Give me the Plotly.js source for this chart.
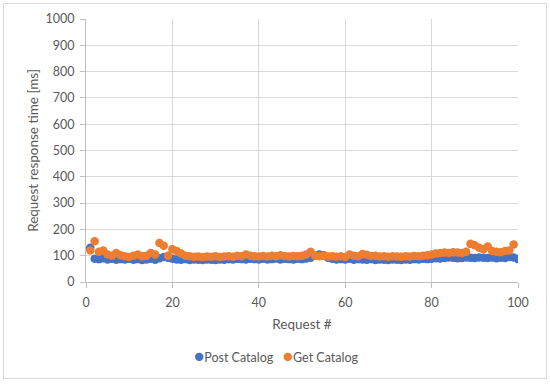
<!DOCTYPE html>
<html>
<head>
<meta charset="utf-8">
<script src="https://cdn.plot.ly/plotly-3.0.1.min.js"></script>
<style>
html,body{margin:0;padding:0;background:#fff;}
#wrap{position:relative;width:550px;height:384px;}
#chart{width:550px;height:384px;}
#frame{position:absolute;left:3px;top:3px;width:542px;height:374px;border:1px solid #d9d9d9;pointer-events:none;}
</style>
</head>
<body>
<div id="wrap"><div id="chart"></div><div id="frame"></div></div>
<script>
const postCatalog = [130,88,87,90,86,88,85,87,86,88,
85,87,84,86,88,85,90,95,92,88,
86,85,87,84,86,85,84,86,85,84,
86,85,87,86,88,87,86,88,87,86,
88,86,87,89,86,88,87,86,88,87,
89,92,100,105,102,92,88,86,87,86,
88,85,87,86,85,87,84,86,85,84,
86,85,84,86,85,87,86,88,87,88,
90,89,91,93,92,90,91,93,92,91,
93,92,91,93,90,92,91,95,93,87];
const getCatalog = [120,155,115,120,105,100,110,102,98,95,
100,105,98,100,110,105,148,138,100,125,
118,108,100,98,96,97,95,97,96,98,
95,97,98,96,100,98,105,100,98,97,
99,97,100,98,102,99,97,99,98,100,
105,115,100,98,100,97,98,96,98,95,
105,100,98,106,104,99,100,97,98,96,
98,97,96,98,97,99,98,100,102,105,
108,110,112,110,113,112,110,115,145,140,
130,125,135,118,115,113,118,120,143];
const seriesNames = ['Post Catalog', 'Get Catalog'];
const seriesColors = ['#4472C4', '#ED7D31'];
const requestPost = postCatalog.map((_, i) => i + 1);
const requestGet = getCatalog.map((_, i) => i + 1);

const fam = 'Lato, Open Sans, sans-serif';
const txt = '#595959';
const traces = [
  {x: requestPost, y: postCatalog, name: seriesNames[0], mode: 'markers', type: 'scatter',
   marker: {color: seriesColors[0], size: 8.5}},
  {x: requestGet, y: getCatalog, name: seriesNames[1], mode: 'markers', type: 'scatter',
   marker: {color: seriesColors[1], size: 8.5}}
];
const legendText = seriesNames.map((n, i) =>
  '<span style="color:' + seriesColors[i] + ';font-size:17px">●</span>' + n).join('   ');
const layout = {
  width: 550, height: 384,
  margin: {l: 86, r: 32, t: 19, b: 102},
  paper_bgcolor: '#fff', plot_bgcolor: '#fff',
  font: {family: fam, color: txt, size: 12},
  showlegend: false,
  annotations: [{xref: 'paper', yref: 'paper', x: 0.44, y: -0.28, xanchor: 'center', yanchor: 'middle',
                 showarrow: false, text: legendText, font: {family: fam, size: 12.5, color: txt}}],
  xaxis: {range: [0, 100], dtick: 20, tick0: 0, showgrid: true, gridcolor: '#d9d9d9',
          showline: true, linecolor: '#bfbfbf', ticks: 'outside', ticklen: 5, tickcolor: '#bfbfbf',
          ticklabelstandoff: 4,
          zeroline: false, title: {text: 'Request #', font: {family: fam, size: 13.5, color: txt}, standoff: 10},
          tickfont: {family: fam, size: 12.5, color: txt}},
  yaxis: {range: [0, 1000], dtick: 100, showgrid: true, gridcolor: '#d9d9d9',
          showline: true, linecolor: '#bfbfbf', ticks: 'outside', ticklen: 5, tickcolor: '#bfbfbf',
          ticklabelstandoff: 3,
          zeroline: false, title: {text: 'Request response time [ms]', font: {family: fam, size: 13.5, color: txt}, standoff: 3},
          tickfont: {family: fam, size: 12.5, color: txt}}
};
Plotly.newPlot('chart', traces, layout, {displayModeBar: false, staticPlot: true});
</script>
</body>
</html>
